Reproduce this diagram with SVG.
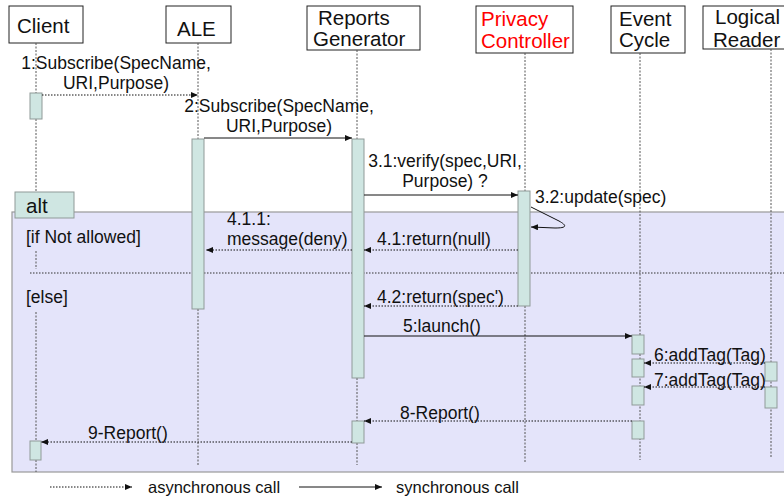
<svg xmlns="http://www.w3.org/2000/svg" width="784" height="501" viewBox="0 0 784 501">
<defs>
<marker id="ah" markerWidth="7" markerHeight="6" refX="7" refY="3" orient="auto" markerUnits="userSpaceOnUse">
<path d="M0,0 L7,3 L0,6 z" fill="#111"/>
</marker>
<style>
text{font-family:"Liberation Sans",Arial,sans-serif;fill:#111}
.hd{font-size:20.5px}
.msg{font-size:17.5px}
.box{fill:#fff;stroke:#222;stroke-width:1}
.life{stroke:#555;stroke-width:1;stroke-dasharray:2,1.5;fill:none}
.act{fill:#cfe6e2;stroke:#8f9a98;stroke-width:1}
.sync{stroke:#111;stroke-width:1;fill:none;marker-end:url(#ah)}
.async{stroke:#111;stroke-width:1;stroke-dasharray:1.5,1.5;fill:none;marker-end:url(#ah)}
</style>
</defs>
<rect width="784" height="501" fill="#fff"/>

<g id="alt-frame">
<rect x="12" y="212" width="790" height="260" fill="#e4e4fa" stroke="#999" stroke-width="1.2"/>
<line x1="30" y1="273" x2="784" y2="273" stroke="#333" stroke-width="1" stroke-dasharray="1.5,1.5"/>
<rect x="15" y="192" width="59" height="26" fill="#cfe6e2" stroke="#8f9a98" stroke-width="1"/>
<text x="26" y="213" class="hd">alt</text>
<text x="26" y="243" class="msg">[if Not allowed]</text>
<text x="26" y="303" class="msg">[else]</text>
</g>

<g id="client">
<rect class="box" x="9" y="6" width="74" height="37"/>
<text class="hd" x="17" y="33">Client</text>
<path class="life" d="M36,43 V93 M36,119 V192 M36,251 V269 M36,312 V441 M36,460 V472"/>
<rect class="act" x="30" y="93" width="12" height="26"/>
<rect class="act" x="30" y="441" width="11" height="19"/>
</g>

<g id="ale">
<rect class="box" x="166" y="6" width="65" height="37"/>
<text class="hd" x="177" y="36">ALE</text>
<path class="life" d="M198,43 V139 M198,309 V465"/>
<rect class="act" x="192" y="139" width="12" height="170"/>
</g>

<g id="reports-generator">
<rect class="box" x="307" y="6" width="113" height="44"/>
<text class="hd"><tspan x="318" y="25">Reports</tspan><tspan x="313" y="46">Generator</tspan></text>
<path class="life" d="M357,50 V139 M357,378 V421 M357,443 V465"/>
<rect class="act" x="352" y="139" width="12" height="239"/>
<rect class="act" x="352" y="421" width="12" height="22"/>
</g>

<g id="privacy-controller">
<rect class="box" x="476" y="6" width="97" height="47"/>
<text class="hd" style="fill:#f00"><tspan x="481" y="26">Privacy</tspan><tspan x="481" y="48">Controller</tspan></text>
<path class="life" d="M525,53 V191 M525,306 V462"/>
<rect class="act" x="518" y="191" width="12" height="115"/>
</g>

<g id="event-cycle">
<rect class="box" x="611" y="6" width="74" height="47"/>
<text class="hd"><tspan x="619" y="26">Event</tspan><tspan x="619" y="47">Cycle</tspan></text>
<path class="life" d="M640,53 V460"/>
<rect class="act" x="632" y="335" width="12" height="19"/>
<rect class="act" x="632" y="359" width="12" height="18"/>
<rect class="act" x="632" y="386" width="12" height="19"/>
<rect class="act" x="632" y="421" width="12" height="18"/>
</g>

<g id="logical-reader">
<rect class="box" x="703" y="6" width="90" height="43"/>
<text class="hd"><tspan x="715" y="24">Logical</tspan><tspan x="713" y="47">Reader</tspan></text>
<path class="life" d="M771,49 V457"/>
<rect class="act" x="765" y="362" width="12" height="19"/>
<rect class="act" x="765" y="387" width="12" height="21"/>
</g>

<g id="connectors">
<line class="async" x1="42" y1="95" x2="198" y2="95"/>
<text class="msg" text-anchor="middle"><tspan x="116" y="69">1:Subscribe(SpecName,</tspan><tspan x="116" y="89">URI,Purpose)</tspan></text>

<line class="sync" x1="204" y1="138" x2="352" y2="138"/>
<text class="msg" text-anchor="middle"><tspan x="279" y="112">2:Subscribe(SpecName,</tspan><tspan x="279" y="132">URI,Purpose)</tspan></text>

<line class="sync" x1="364" y1="195" x2="518" y2="195"/>
<text class="msg" text-anchor="middle"><tspan x="445" y="167">3.1:verify(spec,URI,</tspan><tspan x="445" y="187">Purpose) ?</tspan></text>

<path class="sync" d="M531,207 L559,221 C568,226 566,228 555,228 L531,227"/>
<text class="msg" x="535" y="203">3.2:update(spec)</text>

<line class="async" x1="518" y1="250" x2="364" y2="250"/>
<text class="msg" x="377" y="245">4.1:return(null)</text>

<line class="async" x1="352" y1="250" x2="206" y2="250"/>
<text class="msg"><tspan x="227" y="225">4.1.1:</tspan><tspan x="227" y="245">message(deny)</tspan></text>

<line class="async" x1="518" y1="306" x2="364" y2="306"/>
<text class="msg" x="377" y="303">4.2:return(spec')</text>

<line class="sync" x1="364" y1="336" x2="632" y2="336"/>
<text class="msg" x="403" y="332">5:launch()</text>

<line class="async" x1="765" y1="363" x2="644" y2="363"/>
<text class="msg" x="654" y="361">6:addTag(Tag)</text>

<line class="async" x1="765" y1="387" x2="644" y2="387"/>
<text class="msg" x="654" y="386">7:addTag(Tag)</text>

<line class="async" x1="632" y1="421" x2="364" y2="421"/>
<text class="msg" x="400" y="419">8-Report()</text>

<line class="async" x1="352" y1="442" x2="41" y2="442"/>
<text class="msg" x="88" y="439">9-Report()</text>
</g>

<g id="legend">
<line class="async" x1="50" y1="487" x2="132" y2="487"/>
<text x="148" y="493" style="font-size:16.5px">asynchronous call</text>
<line class="sync" x1="299" y1="487" x2="382" y2="487"/>
<text x="396" y="493" style="font-size:16.5px">synchronous call</text>
</g>
</svg>
